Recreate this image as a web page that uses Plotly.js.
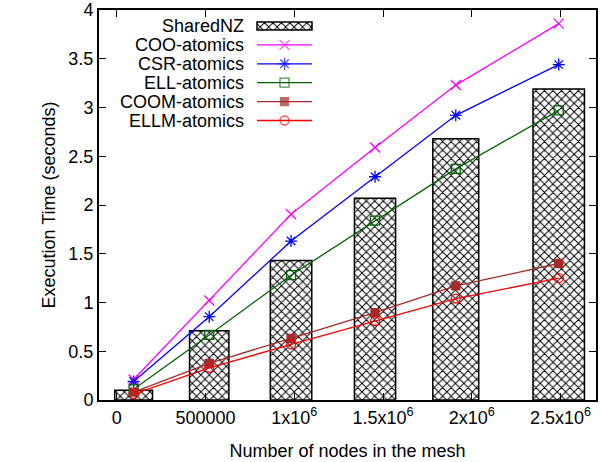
<!DOCTYPE html>
<html>
<head>
<meta charset="utf-8">
<script src="https://cdn.plot.ly/plotly-3.0.1.min.js"></script>
<style>html,body{margin:0;padding:0;background:#fff;}#chart{width:602px;height:462px;}</style>
</head>
<body>
<div id="chart"></div>
<script>
// ---- data ----
const nodes = [95000, 521000, 982000, 1455000, 1910000, 2490000];
const sharedNZ = [0.10, 0.71, 1.43, 2.07, 2.68, 3.19];
const cooAtomics = [0.21, 1.02, 1.905, 2.59, 3.23, 3.86];
const csrAtomics = [0.19, 0.855, 1.63, 2.29, 2.92, 3.44];
const ellAtomics = [0.11, 0.667, 1.28, 1.84, 2.37, 2.97];
const coomAtomics = [0.08, 0.376, 0.633, 0.895, 1.17, 1.40];
const ellmAtomics = [0.06, 0.33, 0.57, 0.81, 1.04, 1.25];
const xTickVals = [0, 500000, 1000000, 1500000, 2000000, 2500000];
const xTickText = ['0', '500000', '1x10<sup>6</sup>', '1.5x10<sup>6</sup>', '2x10<sup>6</sup>', '2.5x10<sup>6</sup>'];
const seriesNames = ['SharedNZ', 'COO-atomics', 'CSR-atomics', 'ELL-atomics', 'COOM-atomics', 'ELLM-atomics'];

// gnuplot-like relative box width (0.5 of neighbour spacing)
const gaps = nodes.slice(1).map((v, i) => v - nodes[i]);
const boxWidths = nodes.map((_, i) => {
  let d;
  if (i === 0) d = gaps[0];
  else if (i === nodes.length - 1) d = gaps[gaps.length - 1];
  else d = (gaps[i - 1] + gaps[i]) / 2;
  return 0.5 * d;
});

const FONT = 'Liberation Sans, Arial, Helvetica, sans-serif';
const hatch = {shape: 'x', size: 6, solidity: 0.3, fgcolor: '#000', bgcolor: '#fff', fillmode: 'replace'};

const styles = [
  {color: '#ff00ff', symbol: 'x-thin-open', size: 10},
  {color: '#0000ff', symbol: 'asterisk-open', size: 10},
  {color: '#006400', symbol: 'square-open', size: 9},
  {color: '#a52a2a', symbol: 'square', size: 8},
  {color: '#ff0000', symbol: 'circle-open', size: 9}
];
const lineSeries = [cooAtomics, csrAtomics, ellAtomics, coomAtomics, ellmAtomics];

const traces = [{
  type: 'bar', x: nodes, y: sharedNZ, width: boxWidths, name: seriesNames[0],
  marker: {color: '#fff', pattern: hatch, line: {color: '#000', width: 1.5}},
  showlegend: false
}];
lineSeries.forEach((ys, k) => {
  const s = styles[k];
  traces.push({
    type: 'scatter', mode: 'lines+markers', x: nodes, y: ys, name: seriesNames[k + 1],
    line: {color: s.color, width: 1.3},
    marker: {symbol: s.symbol, size: s.size, color: s.color, line: {color: s.color, width: 1.3}},
    showlegend: false
  });
});

// gnuplot-style key (text left, sample right) drawn on a pixel overlay axis
const keyTextRight = 147, keyS0 = 158, keyS1 = 213, keyRow0 = 16, keyStep = 18.9;
const annotations = [];
seriesNames.forEach((nm, i) => {
  const yc = keyRow0 + i * keyStep;
  annotations.push({xref: 'x2', yref: 'y2', x: keyTextRight, y: yc, text: nm, showarrow: false,
    xanchor: 'right', yanchor: 'middle', font: {family: FONT, size: 18, color: '#000'}});
  if (i === 0) {
    traces.push({type: 'bar', orientation: 'h', xaxis: 'x2', yaxis: 'y2', y: [yc], x: [keyS1 - keyS0], base: [keyS0],
      width: [8], marker: {color: '#fff', pattern: hatch, line: {color: '#000', width: 1.5}}, showlegend: false, hoverinfo: 'skip'});
  } else {
    const s = styles[i - 1];
    traces.push({type: 'scatter', mode: 'lines+markers', xaxis: 'x2', yaxis: 'y2',
      x: [keyS0, (keyS0 + keyS1) / 2, keyS1], y: [yc, yc, yc],
      line: {color: s.color, width: 1.3},
      marker: {symbol: s.symbol, size: [0, s.size, 0], color: s.color, line: {color: s.color, width: 1.3}},
      showlegend: false, hoverinfo: 'skip'});
  }
});

const layout = {
  width: 602, height: 462,
  margin: {l: 99, r: 6, t: 10, b: 62},
  paper_bgcolor: '#fff', plot_bgcolor: '#fff',
  font: {family: FONT, size: 18, color: '#000'},
  showlegend: false,
  barmode: 'overlay',
  xaxis: {
    range: [-100000, 2700000], tickvals: xTickVals, ticktext: xTickText,
    ticks: 'inside', ticklen: 7, tickwidth: 1, tickcolor: '#000',
    showline: true, linecolor: '#000', linewidth: 2, mirror: 'ticks',
    showgrid: false, zeroline: false,
    tickfont: {family: FONT, size: 18},
    title: {text: 'Number of nodes in the mesh', font: {family: FONT, size: 18}, standoff: 18}
  },
  yaxis: {
    range: [0, 4], dtick: 0.5, tick0: 0,
    ticks: 'inside', ticklen: 7, tickwidth: 1, tickcolor: '#000',
    showline: true, linecolor: '#000', linewidth: 2, mirror: 'ticks',
    showgrid: false, zeroline: false,
    tickfont: {family: FONT, size: 18},
    title: {text: 'Execution Time (seconds)', font: {family: FONT, size: 18}, standoff: 8}
  },
  xaxis2: {overlaying: 'x', range: [0, 497], visible: false, fixedrange: true},
  yaxis2: {overlaying: 'y', range: [390, 0], visible: false, fixedrange: true},
  annotations: annotations
};

Plotly.newPlot('chart', traces, layout, {staticPlot: true, displayModeBar: false});
</script>
</body>
</html>
